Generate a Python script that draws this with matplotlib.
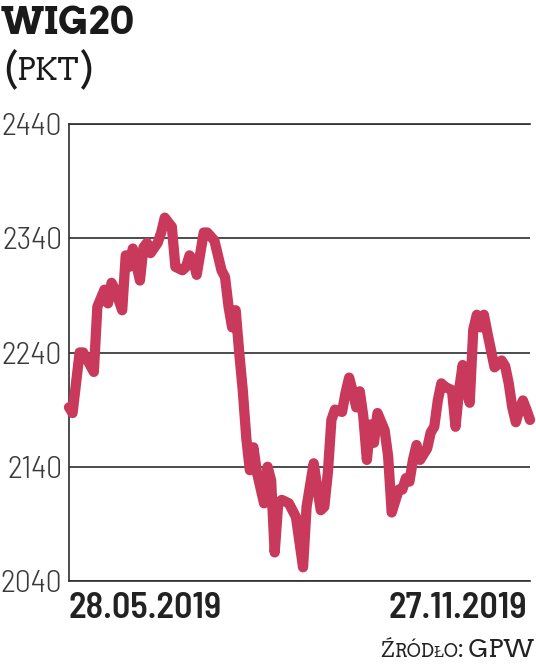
import matplotlib
matplotlib.use("Agg")
import matplotlib.pyplot as plt
from matplotlib.transforms import IdentityTransform

# ---- data (trading-day index since 28.05.2019, WIG20 points) ----
days = [0, 1, 3, 4, 7, 8, 10, 11, 12, 13, 15, 16, 17, 18, 20, 21, 22, 23, 25, 26,
        27, 29, 30, 32, 33, 34, 35, 36, 38, 39, 41, 43, 44, 45, 46, 47, 48, 49, 50, 51,
        52, 53, 55, 56, 57, 58, 59, 60, 62, 63, 64, 66, 67, 69, 70, 71, 72, 73, 74, 75,
        77, 78, 79, 80, 81, 82, 83, 84, 85, 86, 87, 89, 90, 91, 93, 94, 95, 96, 97, 98,
        99, 101, 102, 103, 104, 105, 106, 108, 109, 110, 111, 112, 113, 114, 115, 116, 117, 118, 119, 120,
        122, 123, 124, 125, 126, 127, 128, 129, 130]
values = [2192, 2187, 2240, 2240, 2223, 2280, 2295, 2283, 2301, 2295, 2277, 2325, 2315, 2331, 2303, 2332, 2336, 2327, 2336, 2345,
          2358, 2350, 2315, 2312, 2315, 2325, 2321, 2308, 2345, 2345, 2338, 2312, 2306, 2280, 2262, 2277, 2240, 2207, 2165, 2137,
          2157, 2135, 2108, 2140, 2128, 2065, 2108, 2111, 2108, 2102, 2096, 2052, 2105, 2143, 2122, 2102, 2105, 2135, 2181, 2190,
          2188, 2205, 2218, 2206, 2192, 2206, 2184, 2146, 2177, 2161, 2187, 2172, 2149, 2100, 2120, 2120, 2130, 2127, 2146, 2159,
          2146, 2156, 2170, 2175, 2198, 2213, 2210, 2207, 2175, 2207, 2229, 2207, 2196, 2260, 2273, 2262, 2273, 2257, 2242, 2227,
          2233, 2228, 2213, 2192, 2179, 2190, 2198, 2190, 2181]
y_ticks = [2040, 2140, 2240, 2340, 2440]
date_labels = ["28.05.2019", "27.11.2019"]
title = "WIG20"
unit = "PKT"
source_parts = ["Ź", "RÓDŁO", ": GPW"]

LINE = "#C8395B"
GRID = "#2e2e2e"
SLAB = ["Arvo", "Zilla Slab", "DejaVu Serif"]
COND = ["Barlow Semi Condensed", "Barlow Condensed", "DejaVu Sans"]

fig = plt.figure(figsize=(5.36, 6.64), dpi=100)
W, H = 536, 664
ax = fig.add_axes([69 / W, 1 - 581 / H, (530 - 69) / W, (581 - 124) / H])

ax.plot(days, values, color=LINE, lw=7.4, solid_capstyle="round",
        solid_joinstyle="round", zorder=4, clip_on=False)

ax.set_xlim(days[0], days[-1])
ax.set_ylim(y_ticks[0], y_ticks[-1])
ax.set_yticks(y_ticks)
ax.set_yticklabels([str(t) for t in y_ticks])
ax.set_xticks([])
ax.tick_params(axis="y", length=0, pad=5, labelsize=23, labelcolor="#3a3a3a")
for lab in ax.get_yticklabels():
    lab.set_family(COND)
    lab.set_weight(300)
ax.yaxis.grid(True, color=GRID, lw=1.2)
ax.set_axisbelow(True)
for side in ("left", "bottom", "top"):
    ax.spines[side].set_color(GRID)
    ax.spines[side].set_linewidth(1.2)
ax.spines["right"].set_visible(False)

# date labels under the axis
ax.annotate(date_labels[0], xy=(days[0], y_ticks[0]), xycoords="data",
            xytext=(-1, -37), textcoords="offset pixels", ha="left", va="baseline",
            fontsize=26, family=COND, weight=600, color="#222222")
ax.annotate(date_labels[1], xy=(days[-1], y_ticks[0]), xycoords="data",
            xytext=(-3, -37), textcoords="offset pixels", ha="right", va="baseline",
            fontsize=26, family=COND, weight=600, color="#222222")

renderer = fig.canvas.get_renderer()


def seq_text(x, y, pieces, align="left", **kw):
    objs = []
    cx = x
    for s, size in pieces:
        t = fig.text(cx, y, s, transform=IdentityTransform(), fontsize=size,
                     ha="left", va="baseline", **kw)
        w = t.get_window_extent(renderer).width
        objs.append(t)
        cx += w
    if align == "right":
        shift = cx - x
        for t in objs:
            px, py = t.get_position()
            t.set_position((px - shift, py))
    return objs


# title
fig.text(1, H - 34, title, transform=IdentityTransform(), fontsize=27,
         family=SLAB, weight="bold", color="#1a1a1a", ha="left", va="baseline")
# unit in small caps with parentheses
seq_text(3, H - 80, [("(", 29), (unit, 21.5), (")", 29)], family=SLAB,
         weight="normal", color="#1a1a1a")
# source, small caps
seq_text(535, H - 657, [(source_parts[0], 17.5), (source_parts[1], 13), (source_parts[2], 17.5)],
         align="right", family=SLAB, weight="normal", color="#222222")

fig.savefig("out.png", dpi=100)
